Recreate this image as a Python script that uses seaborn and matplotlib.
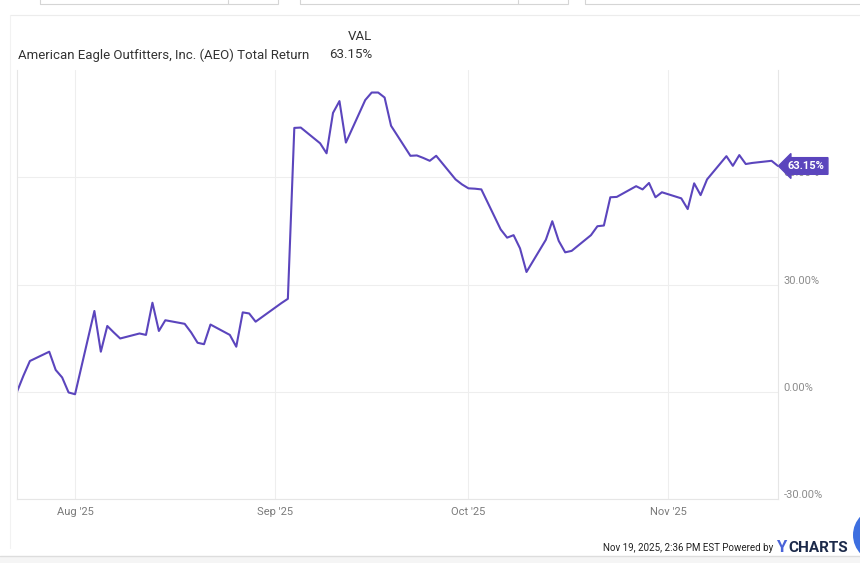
import numpy as np
import pandas as pd
import seaborn as sns
import matplotlib.pyplot as plt
from matplotlib.patches import Rectangle, Ellipse
from matplotlib.transforms import ScaledTranslation

# AEO total return, daily closes
dates = [
    "2025-07-23", "2025-07-24", "2025-07-25", "2025-07-28", "2025-07-29", "2025-07-30", "2025-07-31",
    "2025-08-01", "2025-08-04", "2025-08-05", "2025-08-06", "2025-08-07", "2025-08-08",
    "2025-08-11", "2025-08-12", "2025-08-13", "2025-08-14", "2025-08-15",
    "2025-08-18", "2025-08-19", "2025-08-20", "2025-08-21", "2025-08-22",
    "2025-08-25", "2025-08-26", "2025-08-27", "2025-08-28", "2025-08-29",
    "2025-09-02", "2025-09-03", "2025-09-04", "2025-09-05",
    "2025-09-08", "2025-09-09", "2025-09-10", "2025-09-11", "2025-09-12",
    "2025-09-15", "2025-09-16", "2025-09-17", "2025-09-18", "2025-09-19",
    "2025-09-22", "2025-09-23", "2025-09-24", "2025-09-25", "2025-09-26",
    "2025-09-29", "2025-09-30", "2025-10-01", "2025-10-02", "2025-10-03",
    "2025-10-06", "2025-10-07", "2025-10-08", "2025-10-09", "2025-10-10",
    "2025-10-13", "2025-10-14", "2025-10-15", "2025-10-16", "2025-10-17",
    "2025-10-20", "2025-10-21", "2025-10-22", "2025-10-23", "2025-10-24",
    "2025-10-27", "2025-10-28", "2025-10-29", "2025-10-30", "2025-10-31",
    "2025-11-03", "2025-11-04", "2025-11-05", "2025-11-06", "2025-11-07",
    "2025-11-10", "2025-11-11", "2025-11-12", "2025-11-13", "2025-11-14",
    "2025-11-17", "2025-11-18",
]
total_return = [
    0.0, 4.5, 8.6, 11.2, 6.1, 4.0, -0.2,
    -0.7, 22.6, 11.2, 18.4, 16.6, 14.9,
    16.3, 15.9, 24.9, 17.0, 20.0,
    19.0, 16.6, 13.7, 13.3, 18.8,
    15.9, 12.6, 22.2, 21.9, 19.6,
    24.8, 26.0, 73.8, 73.9,
    69.5, 66.7, 78.0, 81.3, 69.7,
    81.6, 83.7, 83.7, 82.3, 74.4,
    66.0, 66.1, 65.4, 64.6, 66.0,
    59.4, 58.0, 56.9, 56.8, 56.6,
    45.4, 43.1, 43.8, 40.1, 33.5,
    42.5, 47.7, 42.2, 39.0, 39.4,
    43.8, 46.3, 46.5, 54.4, 54.5,
    57.5, 56.6, 58.4, 54.4, 55.8,
    54.1, 51.1, 58.3, 55.0, 59.4,
    65.9, 63.2, 66.2, 63.7, 64.0,
    64.6, 63.15,
]
y_ticks = [-30, 0, 30, 60]
month_ticks = ["2025-08-01", "2025-09-01", "2025-10-01", "2025-11-01"]
month_labels = ["Aug '25", "Sep '25", "Oct '25", "Nov '25"]
series_name = "American Eagle Outfitters, Inc. (AEO) Total Return"
last_label = "63.15%"

PURPLE = "#5b45bd"
GRID = "#eeeeee"
TICK = "#8c8c8c"

df = pd.DataFrame({"date": pd.to_datetime(dates), "ret": total_return})

sns.set_theme(style="white")
plt.rcParams["font.family"] = ["Roboto", "DejaVu Sans"]

W, H = 860, 563
fig = plt.figure(figsize=(W / 100, H / 100), dpi=100)
fig.patch.set_facecolor("white")

def fx(px):
    return px / W

def fy(py):
    return 1 - py / H

ax = fig.add_axes([fx(17), fy(499), fx(778) - fx(17), fy(70) - fy(499)])

sns.lineplot(data=df, x="date", y="ret", ax=ax, color=PURPLE, linewidth=1.5)

ax.set_xlim(df["date"].iloc[0], df["date"].iloc[-1])
ax.set_ylim(-30, 90)
ax.set_xlabel("")
ax.set_ylabel("")

ax.set_yticks(y_ticks)
ax.set_yticklabels([f"{v:.2f}%" for v in y_ticks])
ax.yaxis.tick_right()
ax.tick_params(axis="y", length=0, pad=4, labelsize=8, labelcolor=TICK)
# ycharts puts the value labels a touch above their gridline
for lbl in ax.get_yticklabels():
    lbl.set_transform(lbl.get_transform() + ScaledTranslation(0, 5 / 100, fig.dpi_scale_trans))
ax.set_xticks(pd.to_datetime(month_ticks))
ax.set_xticklabels(month_labels)
ax.tick_params(axis="x", length=0, pad=6, labelsize=8, labelcolor="#7a7a7a")

ax.grid(True, color=GRID, linewidth=0.8)
ax.set_axisbelow(True)
ax.spines["top"].set_visible(False)
for side in ["left", "bottom", "right"]:
    ax.spines[side].set_color("#e6e6e6")
    ax.spines[side].set_linewidth(0.8)

# end-of-series value flag
ax.annotate(last_label, xy=(df["date"].iloc[-1], df["ret"].iloc[-1]),
            xytext=(7, 0), textcoords="offset points", ha="left", va="center",
            color="white", fontsize=8, fontweight="bold",
            bbox=dict(boxstyle="larrow,pad=0.3", fc=PURPLE, ec=PURPLE),
            annotation_clip=False, zorder=5)

# header / legend
fig.text(fx(360), fy(36), "VAL", fontsize=9.5, color="#333333", ha="center", va="center")
fig.text(fx(18), fy(55), series_name, fontsize=9.5, color="#333333", ha="left", va="center")
fig.text(fx(329), fy(55), last_label, fontsize=9.6, color="#333333", ha="left", va="center")
fig.add_artist(plt.Line2D([fx(10), fx(860)], [fy(15), fy(15)], color="#ececec", lw=0.8))
fig.add_artist(plt.Line2D([fx(10), fx(10)], [fy(15), fy(548)], color="#f2f2f2", lw=0.8))

# cut-off input boxes at the very top
for x0, x1, div in [(40, 278, 228), (300, 568, 518), (585, 870, None)]:
    fig.add_artist(Rectangle((fx(x0), fy(4)), fx(x1 - x0), fy(-20) - fy(4),
                             fill=False, ec="#d5d5d5", lw=0.8))
    if div:
        fig.add_artist(plt.Line2D([fx(div), fx(div)], [fy(0), fy(4)], color="#d5d5d5", lw=0.8))

# footer
fig.text(fx(773), fy(548), "Nov 19, 2025, 2:36 PM EST Powered by", fontsize=7,
         color="#222222", ha="right", va="center")
fig.text(fx(776), fy(548), "Y", fontsize=12, color="#4a63d8", ha="left", va="center", fontweight="bold")
fig.text(fx(788), fy(548), "CHARTS", fontsize=11, color="#1c2a4a", ha="left", va="center",
         fontweight="bold")
fig.add_artist(plt.Line2D([0, 1], [fy(556), fy(556)], color="#dddddd", lw=1.0))
fig.add_artist(Rectangle((0, 0), 1, fy(556), fc="#f5f5f5", ec="none"))
fig.add_artist(Ellipse((fx(880), fy(535)), 54 / W, 54 / H, fc="#3d6fe0", ec="none",
                       transform=fig.transFigure))

fig.savefig("out.png", dpi=100)
